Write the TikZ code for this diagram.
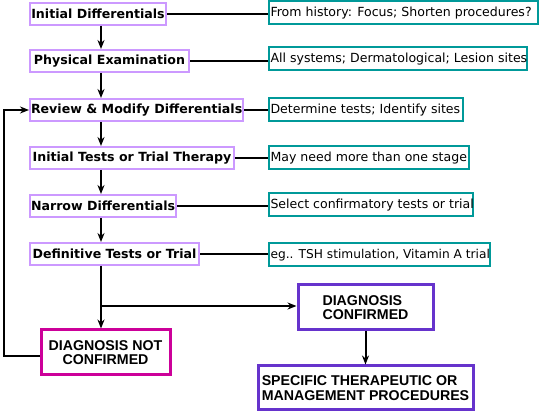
\documentclass[tikz,border=0pt]{standalone}
\usepackage{fontspec}
\setmainfont{DejaVu Sans}
\newfontfamily\capsfont{Liberation Sans}
\usetikzlibrary{arrows.meta}
\definecolor{lav}{HTML}{CC99FF}
\definecolor{teal2}{HTML}{009999}
\definecolor{mag}{HTML}{CC0099}
\definecolor{purp}{HTML}{6633CC}
\newcommand\notetext[2]{\makebox[#1][l]{#2}}
\tikzset{
  stepbox/.style={draw=lav, line width=2pt, fill=white, anchor=west, minimum height=22pt, inner xsep=1pt, inner ysep=0pt, font=\fontsize{12.6}{14}\selectfont\bfseries},
  notebox/.style={draw=teal2, line width=2pt, fill=white, anchor=west, minimum height=23pt, inner xsep=1.5pt, inner ysep=0pt, font=\fontsize{12.55}{14}\selectfont},
  capbox/.style={line width=3pt, fill=white, inner sep=0pt, font=\capsfont\fontsize{14.2}{14.5}\selectfont\bfseries},
  conn/.style={line width=2pt, draw=black},
  arr/.style={conn, -{Stealth[length=9pt,width=7pt]}},
}
\begin{document}
\begin{tikzpicture}[x=1pt,y=-1pt]
\useasboundingbox (0,0) rectangle (539,414);
% left step boxes
\node[stepbox, minimum width=136pt] (s1) at (29,14) {Initial Differentials};
\node[stepbox, minimum width=159pt] (s2) at (29,61) {Physical Examination};
\node[stepbox, minimum width=212pt] (s3) at (29,110) {Review \& Modify Differentials};
\node[stepbox, minimum width=204pt] (s4) at (29,158) {Initial Tests or Trial Therapy};
\node[stepbox, minimum width=145pt] (s5) at (29,206) {Narrow Differentials};
\node[stepbox, minimum width=169pt] (s6) at (29,254) {Definitive Tests or Trial};
% right note boxes
\node[notebox] (n1) at (268,13) {\notetext{266pt}{From history: Focus; Shorten procedures?}};
\node[notebox] (n2) at (268,59) {\notetext{255pt}{All systems; Dermatological; Lesion sites}};
\node[notebox] (n3) at (268,110) {\notetext{191pt}{Determine tests; Identify sites}};
\node[notebox] (n4) at (268,158) {\notetext{197pt}{May need more than one stage}};
\node[notebox] (n5) at (268,205) {\notetext{201pt}{Select confirmatory tests or trial}};
\node[notebox] (n6) at (268,255) {\notetext{218pt}{\fontsize{12.2}{14}\selectfont eg.. TSH stimulation, Vitamin A trial}};
% bottom boxes
\node[capbox, draw=mag, align=center, minimum width=129pt, minimum height=45pt] (dnc) at (105.5,352.5) {DIAGNOSIS NOT\\CONFIRMED};
\node[capbox, draw=purp, align=left, minimum width=135pt, minimum height=45pt] (dc) at (365.5,307.5) {DIAGNOSIS\\CONFIRMED};
\node[capbox, draw=purp, align=left, minimum width=215pt, minimum height=44pt] (sp) at (365.5,388) {SPECIFIC THERAPEUTIC OR\\MANAGEMENT PROCEDURES};
% vertical arrows
\draw[arr] (s1.south -| 101,0) -- (s2.north -| 101,0);
\draw[arr] (s2.south -| 101,0) -- (s3.north -| 101,0);
\draw[arr] (s3.south -| 101,0) -- (s4.north -| 101,0);
\draw[arr] (s4.south -| 101,0) -- (s5.north -| 101,0);
\draw[arr] (s5.south -| 101,0) -- (s6.north -| 101,0);
\coordinate (br) at (101,306);
\draw[arr] (s6.south -| br) -- (dnc.north -| br);
\draw[arr] (br) -- (br -| dc.west);
\draw[arr] (dc) -- (sp);
% feedback loop
\coordinate (fb) at (4,356);
\draw[arr] (dnc.west |- fb) -- (fb) |- (s3.west);
% horizontal connectors
\foreach \i in {1,...,6} {
  \draw[conn] (s\i.east) -- (s\i.east -| n\i.west);
}
\end{tikzpicture}
\end{document}
